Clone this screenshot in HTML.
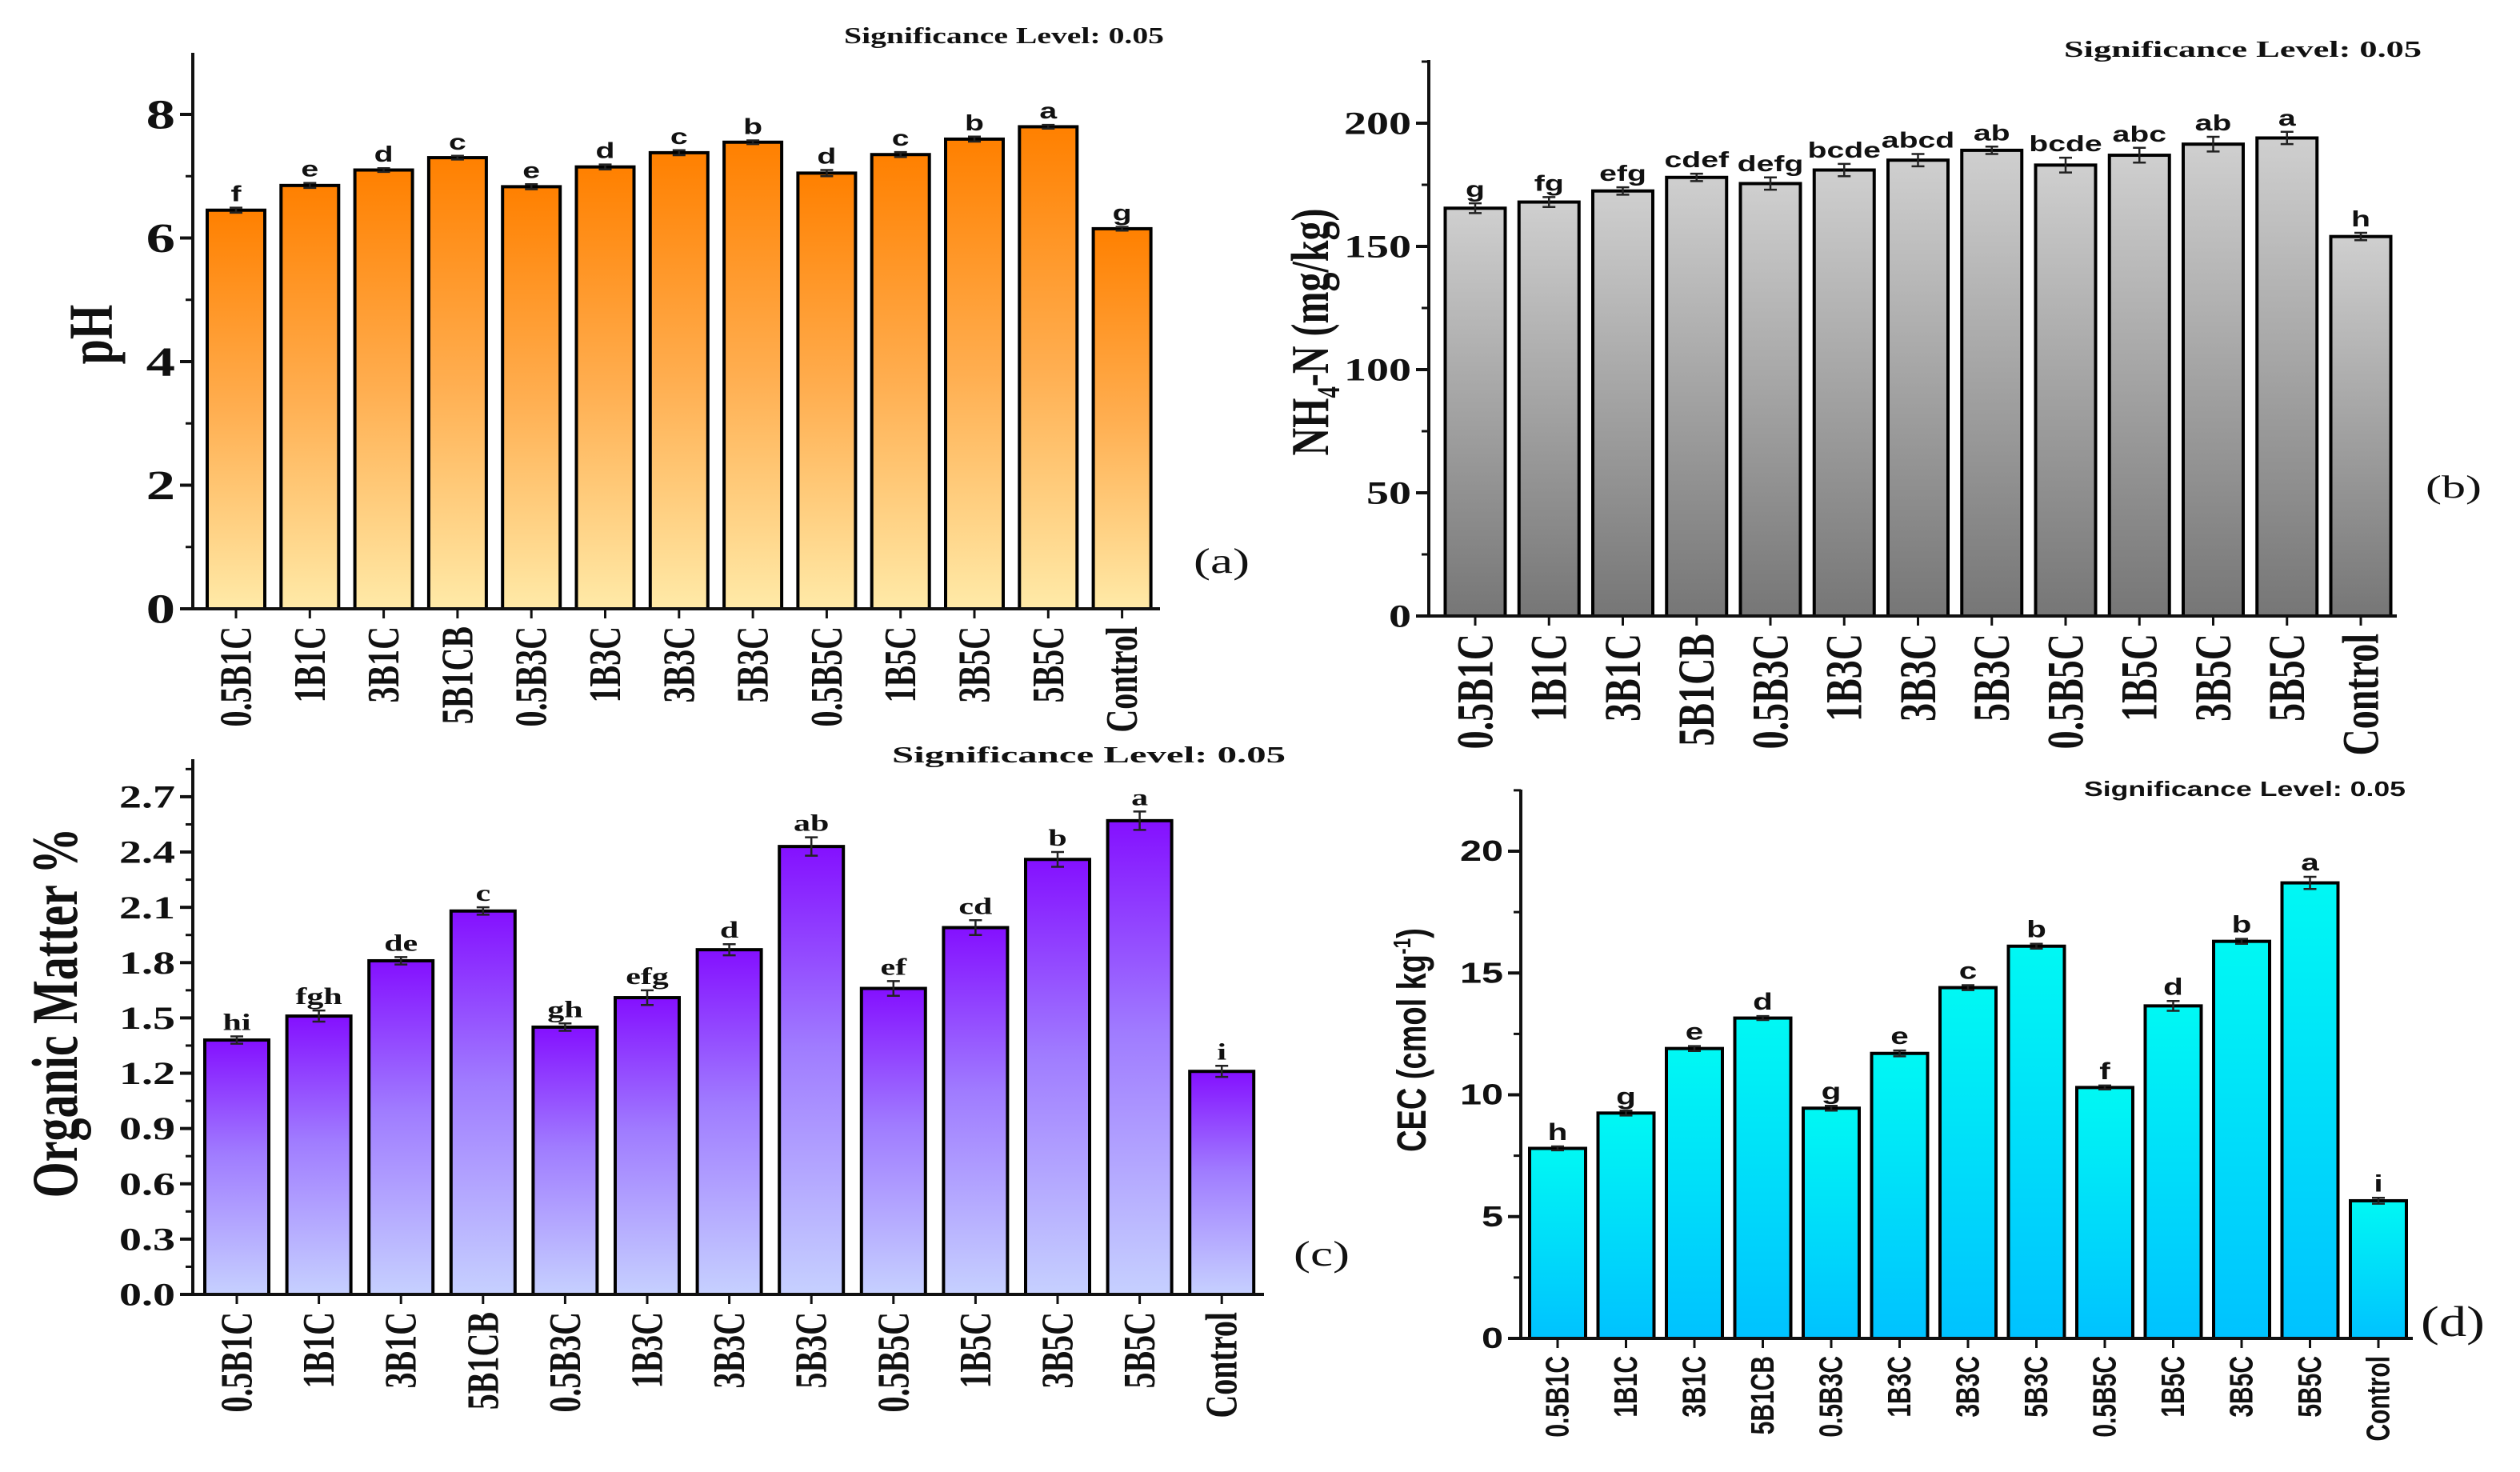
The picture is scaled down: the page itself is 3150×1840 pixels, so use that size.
<!DOCTYPE html>
<html><head><meta charset="utf-8">
<style>html,body{margin:0;padding:0;background:#fff;}svg{display:block;}</style>
</head><body>
<svg id="fig" width="3150" height="1840" viewBox="0 0 3150 1840" xmlns="http://www.w3.org/2000/svg">
<defs>
<linearGradient id="gA" x1="0" y1="0" x2="0" y2="1"><stop offset="0" stop-color="#ff8000"/><stop offset="0.5" stop-color="#ffae50"/><stop offset="1" stop-color="#ffeaa8"/></linearGradient>
<linearGradient id="gB" x1="0" y1="0" x2="0" y2="1"><stop offset="0" stop-color="#cfcfcf"/><stop offset="1" stop-color="#767676"/></linearGradient>
<linearGradient id="gC" x1="0" y1="0" x2="0" y2="1"><stop offset="0" stop-color="#8410ff"/><stop offset="0.45" stop-color="#a07cff"/><stop offset="1" stop-color="#c6d0ff"/></linearGradient>
<linearGradient id="gD" x1="0" y1="0" x2="0" y2="1"><stop offset="0" stop-color="#00f8f4"/><stop offset="1" stop-color="#00c2ff"/></linearGradient>
</defs>
</svg>
<script>
const categories = ["0.5B1C","1B1C","3B1C","5B1CB","0.5B3C","1B3C","3B3C","5B3C","0.5B5C","1B5C","3B5C","5B5C","Control"];
const phValues = [6.45,6.85,7.1,7.3,6.83,7.15,7.38,7.55,7.05,7.35,7.6,7.8,6.15];
const phErrors = [0.04,0.04,0.03,0.03,0.04,0.04,0.04,0.03,0.05,0.04,0.04,0.03,0.03];
const phLetters = ["f","e","d","c","e","d","c","b","d","c","b","a","g"];
const phTicks = [0,2,4,6,8];
const nhValues = [165.5,168,172.5,178,175.5,181,185,189,183,187,191.5,194,154];
const nhErrors = [2,2,1.5,1.5,2.5,2.5,2.5,1.5,3,3,3,2.5,1.5];
const nhLetters = ["g","fg","efg","cdef","defg","bcde","abcd","ab","bcde","abc","ab","a","h"];
const nhTicks = [0,50,100,150,200];
const omValues = [1.38,1.51,1.81,2.08,1.45,1.61,1.87,2.43,1.66,1.99,2.36,2.57,1.21];
const omErrors = [0.02,0.03,0.02,0.02,0.02,0.04,0.03,0.05,0.04,0.04,0.04,0.05,0.03];
const omLetters = ["hi","fgh","de","c","gh","efg","d","ab","ef","cd","b","a","i"];
const omTicks = [0.0,0.3,0.6,0.9,1.2,1.5,1.8,2.1,2.4,2.7];
const cecValues = [7.8,9.25,11.9,13.15,9.45,11.7,14.4,16.1,10.3,13.65,16.3,18.7,5.65];
const cecErrors = [0.08,0.1,0.1,0.08,0.1,0.12,0.1,0.1,0.08,0.2,0.1,0.25,0.12];
const cecLetters = ["h","g","e","d","g","e","c","b","f","d","b","a","i"];
const cecTicks = [0,5,10,15,20];

const NS="http://www.w3.org/2000/svg";
const svg=document.getElementById('fig');
function mk(tag,attrs,parent,text){const e=document.createElementNS(NS,tag);for(const k in attrs)e.setAttribute(k,attrs[k]);if(text!==undefined)e.textContent=text;(parent||svg).appendChild(e);return e;}
const SERIF='"Liberation Serif", serif', SANS='"Liberation Sans", sans-serif';

function panel(c){
  const g=mk('g',{});
  
  
  const y=v=>c.base-(v-0)*c.ppu;
  const xc=i=>c.cx0+i*c.step;
  // bars
  c.values.forEach((v,i)=>{
    const r=mk('rect',{x:xc(i)-c.bw/2,y:y(v),width:c.bw,height:c.base-y(v),fill:'url(#'+c.grad+')',stroke:'#000','stroke-width':4},g);
    
    
    const e=c.errs[i], t=y(v+e), b=y(v-e);
    const eb=mk('path',{d:`M${xc(i)} ${t}V${b}M${xc(i)-8} ${t}H${xc(i)+8}M${xc(i)-8} ${b}H${xc(i)+8}`,stroke:'#222','stroke-width':2.5,fill:'none'},g);
    
    
    const lt=mk('text',{x:0,y:0,'font-family':c.letFont,'font-weight':'bold','font-size':c.letSize,'text-anchor':'middle',transform:`translate(${xc(i)},${t-8}) scale(${c.sx},1)`,fill:'#111'},g,c.letters[i]);
    
    
  });
  // axes
  const ax=mk('path',{d:`M${c.ax} ${c.top}V${c.base}M${c.xs} ${c.base}H${c.xe}`,stroke:'#111','stroke-width':4,fill:'none'},g);
  
  
  // y ticks
  c.ticks.forEach(v=>{
    mk('line',{x1:c.ax-16,x2:c.ax,y1:y(v),y2:y(v),stroke:'#111','stroke-width':4},g);
    const tl=mk('text',{x:0,y:0,'font-family':c.tickFont,'font-weight':'bold','font-size':c.tickSize,'text-anchor':'end',transform:`translate(${c.ax-22},${y(v)+c.tickSize*0.34}) scale(${c.sx},1)`,fill:'#111'},g,c.fmt(v));
    
    
  });
  for(let i=0;i<c.ticks.length;i++){const mv=c.ticks[i]+(c.ticks[1]-c.ticks[0])/2; if(y(mv)>c.top) mk('line',{x1:c.ax-9,x2:c.ax,y1:y(mv),y2:y(mv),stroke:'#111','stroke-width':3},g);}
  // x ticks & labels
  categories.forEach((cat,i)=>{
    mk('line',{x1:xc(i),x2:xc(i),y1:c.base,y2:c.base+12,stroke:'#111','stroke-width':3},g);
    const xl=mk('text',{x:0,y:0,'font-family':c.xFont,'font-weight':'bold','font-size':c.xSize,'text-anchor':'end',transform:`translate(${xc(i)+c.xSize*0.33*c.sx},${c.base+22}) scale(${c.sx},1) rotate(-90)`,fill:'#111'},g,cat);
    
    
  });
  // y title
  const yt=mk('text',{x:0,y:0,'font-family':c.ytFont,'font-weight':'bold','font-size':c.ytSize,'text-anchor':'middle',transform:`translate(${c.ytX},${c.ytY}) scale(${c.sx},1) rotate(-90)`,fill:'#111'},g);
  
  
  c.ytParts.forEach(p=>{const s=mk('tspan',p.sub?{'font-size':c.ytSize*0.6,dy:p.dy}:(p.dy?{dy:p.dy}:{}),yt,p.t);});
  // significance
  const sg=mk('text',{x:c.sigX,y:c.sigY,'font-family':c.sigFont,'font-weight':'bold','font-size':c.sigSize,textLength:c.sigW,lengthAdjust:'spacingAndGlyphs',fill:'#111'},g,'Significance Level: 0.05');
  
  
  const pl=mk('text',{x:c.plX,y:c.plY,'font-family':SERIF,'font-size':c.plSize,textLength:c.plW,lengthAdjust:'spacingAndGlyphs',fill:'#111'},g,c.plT);
  
  
}

panel({name:'panel-a-ph',values:phValues,errs:phErrors,letters:phLetters,ticks:phTicks,fmt:v=>String(v),
  base:761,ppu:77.25,top:66,ax:241,xs:233,xe:1450,cx0:295,step:92.3,bw:72,grad:'gA',sx:1.4,
  letFont:SANS,letSize:28,tickFont:SERIF,tickSize:52,xFont:SERIF,xSize:40,
  ytFont:SERIF,ytSize:56,ytX:140,ytY:418,ytParts:[{t:'pH'}],
  sigFont:SERIF,sigSize:28,sigX:1055,sigY:54,sigW:400,plX:1492,plY:716,plSize:44,plW:70,plT:'(a)'});

panel({name:'panel-b-nh4n',values:nhValues,errs:nhErrors,letters:nhLetters,ticks:nhTicks,fmt:v=>String(v),
  base:770,ppu:3.08,top:75,ax:1786,xs:1776,xe:2996,cx0:1844,step:92.25,bw:75,grad:'gB',sx:1.4,
  letFont:SANS,letSize:28,tickFont:SERIF,tickSize:40,xFont:SERIF,xSize:46,
  ytFont:SERIF,ytSize:48,ytX:1660,ytY:415,ytParts:[{t:'NH'},{t:'4',sub:true,dy:10},{t:'-N (mg/kg)',dy:-10}],
  sigFont:SERIF,sigSize:28,sigX:2580,sigY:71,sigW:447,plX:3032,plY:622,plSize:40,plW:70,plT:'(b)'});

panel({name:'panel-c-organic-matter',values:omValues,errs:omErrors,letters:omLetters,ticks:omTicks,fmt:v=>v.toFixed(1),
  base:1618,ppu:230.4,top:949,ax:241,xs:233,xe:1580,cx0:296,step:102.6,bw:80,grad:'gC',sx:1.4,
  letFont:SERIF,letSize:30,tickFont:SERIF,tickSize:40,xFont:SERIF,xSize:40,
  ytFont:SERIF,ytSize:58,ytX:96,ytY:1266,ytParts:[{t:'Organic Matter %'}],
  sigFont:SERIF,sigSize:28,sigX:1115,sigY:953,sigW:492,plX:1617,plY:1582,plSize:44,plW:70,plT:'(c)'});

panel({name:'panel-d-cec',values:cecValues,errs:cecErrors,letters:cecLetters,ticks:cecTicks,fmt:v=>String(v),
  base:1673,ppu:30.45,top:987,ax:1901,xs:1891,xe:3016,cx0:1947,step:85.5,bw:70,grad:'gD',sx:1.35,
  letFont:SANS,letSize:30,tickFont:SANS,tickSize:36,xFont:SANS,xSize:30,
  ytFont:SANS,ytSize:38,ytX:1782,ytY:1300,ytParts:[{t:'CEC (cmol kg'},{t:'-1',sub:true,dy:-14},{t:')',dy:14}],
  sigFont:SANS,sigSize:26,sigX:2605,sigY:995,sigW:402,plX:3026,plY:1670,plSize:54,plW:80,plT:'(d)'});
</script>
</body></html>
